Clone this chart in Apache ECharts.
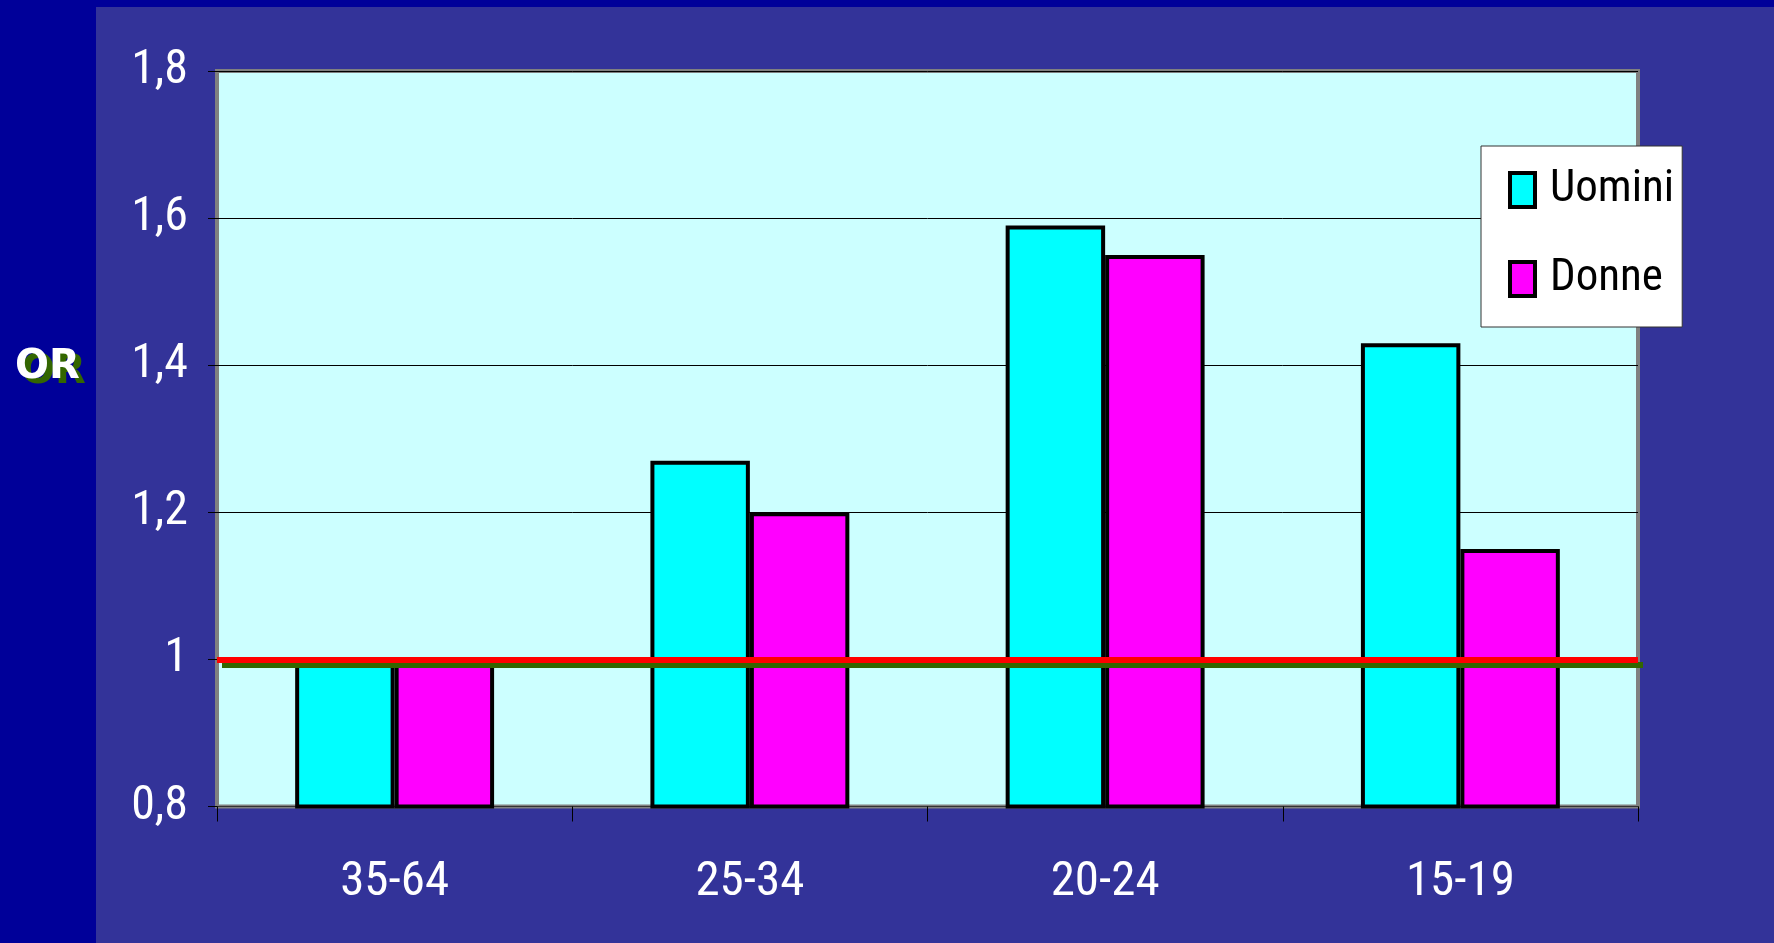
<!DOCTYPE html>
<html>
<head>
<meta charset="utf-8">
<script src="https://cdn.jsdelivr.net/npm/echarts@6/dist/echarts.min.js"></script>
<style>
  html, body { margin: 0; padding: 0; background: #000099; }
  #chart { width: 1774px; height: 943px; }
</style>
</head>
<body>
<div id="chart"></div>
<script>
// Odds ratio by age group, men vs women
const categories = ['35-64', '25-34', '20-24', '15-19'];
const uomini = [1.0, 1.27, 1.59, 1.43];
const donne = [1.0, 1.2, 1.55, 1.15];
const referenceOR = 1;
const yMin = 0.8, yMax = 1.8, yStep = 0.2;
const yTitle = 'OR';

const narrow = "'Liberation Sans Narrow', 'Arial Narrow', 'Roboto Condensed', 'DejaVu Sans Condensed', sans-serif";
const titleFont = 'bold 40px Verdana, "DejaVu Sans", sans-serif';

const chart = echarts.init(document.getElementById('chart'));

chart.setOption({
  backgroundColor: '#000099',
  animation: false,
  graphic: [
    {
      type: 'rect',
      z: -10,
      silent: true,
      shape: { x: 96, y: 7, width: 1678, height: 936 },
      style: { fill: '#333399' }
    },
    // axis title: green drop shadow under white lettering
    {
      type: 'text',
      left: 21,
      top: 353,
      z: 10,
      style: { text: yTitle, fill: '#336600', font: titleFont }
    },
    {
      type: 'text',
      left: 15,
      top: 348,
      z: 11,
      style: { text: yTitle, fill: '#ffffff', font: titleFont }
    }
  ],
  grid: {
    left: 217,
    top: 71,
    right: 136,
    bottom: 136.5,
    show: true,
    backgroundColor: '#CCFFFF',
    borderColor: '#808080',
    borderWidth: 4
  },
  legend: {
    orient: 'vertical',
    left: 1481,
    top: 146,
    padding: [21, 8, 25, 27],
    itemGap: 43,
    itemWidth: 25,
    itemHeight: 34,
    backgroundColor: '#ffffff',
    borderColor: '#333333',
    borderWidth: 1,
    icon: 'rect',
    itemStyle: { borderColor: '#000000', borderWidth: 4 },
    textStyle: { color: '#000000', fontSize: 45, lineHeight: 46, fontFamily: narrow, padding: [0, 0, 0, 10] },
    data: ['Uomini', 'Donne']
  },
  xAxis: {
    type: 'category',
    data: categories,
    axisLine: { show: true, lineStyle: { color: '#333333', width: 1 } },
    axisTick: { show: true, length: 15, lineStyle: { color: '#000000', width: 1 } },
    axisLabel: { color: '#ffffff', fontSize: 49, fontFamily: narrow, margin: 52 },
    splitLine: { show: false }
  },
  yAxis: {
    type: 'value',
    min: yMin,
    max: yMax,
    interval: yStep,
    axisLine: { show: false },
    axisTick: { show: true, length: 9, lineStyle: { color: '#000000', width: 1 } },
    axisLabel: {
      color: '#ffffff',
      fontSize: 48,
      fontFamily: narrow,
      margin: 29,
      formatter: v => String(Math.round(v * 10) / 10).replace('.', ',')
    },
    splitLine: { show: true, lineStyle: { color: '#000000', width: 1 } }
  },
  series: [
    {
      name: 'Uomini',
      type: 'bar',
      data: uomini,
      barGap: '0%',
      barCategoryGap: '44%',
      itemStyle: { color: '#00FFFF', borderColor: '#000000', borderWidth: 4 }
    },
    {
      name: 'Donne',
      type: 'bar',
      data: donne,
      barGap: '0%',
      barCategoryGap: '44%',
      itemStyle: { color: '#FF00FF', borderColor: '#000000', borderWidth: 4 },
      markLine: {
        silent: true,
        symbol: 'none',
        label: { show: false },
        lineStyle: {
          type: 'solid',
          color: '#FF0000',
          width: 6,
          shadowColor: '#336600',
          shadowOffsetX: 5,
          shadowOffsetY: 5,
          shadowBlur: 0
        },
        data: [{ yAxis: referenceOR }]
      }
    }
  ]
});
</script>
</body>
</html>
